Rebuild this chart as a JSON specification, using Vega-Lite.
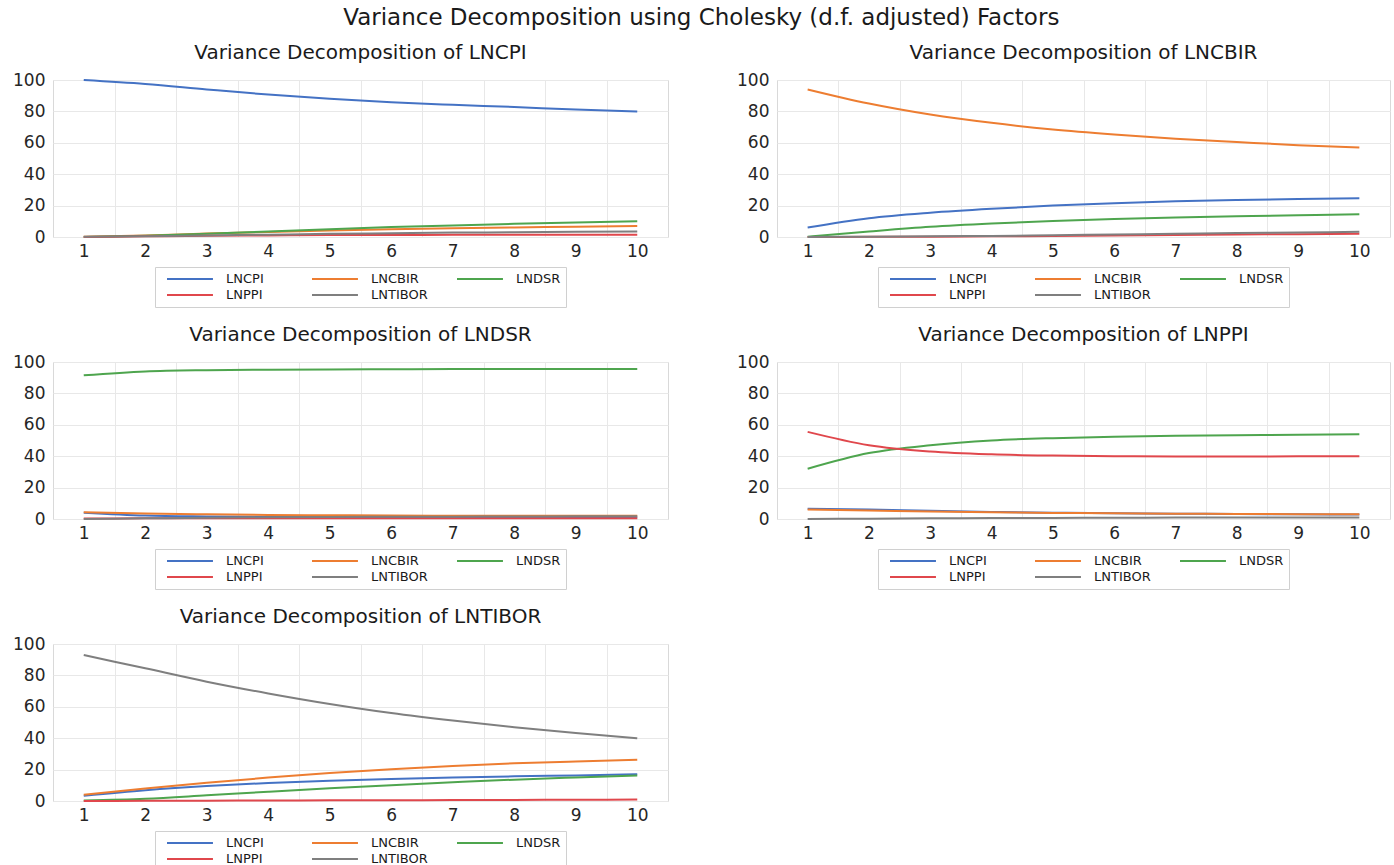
{
  "$schema": "https://vega.github.io/schema/vega-lite/v6.json",
  "padding": {"left": 12, "top": 6, "right": 5, "bottom": 0},
  "title": {"text": "Variance Decomposition using Cholesky (d.f. adjusted) Factors", "anchor": "middle", "offset": 13, "fontSize": 23},
  "data": {"values": [
    {"p":"LNCPI","s":"LNCPI","h":1,"v":100},{"p":"LNCPI","s":"LNCPI","h":2,"v":97.5},{"p":"LNCPI","s":"LNCPI","h":3,"v":94},{"p":"LNCPI","s":"LNCPI","h":4,"v":90.7},{"p":"LNCPI","s":"LNCPI","h":5,"v":88},{"p":"LNCPI","s":"LNCPI","h":6,"v":85.8},{"p":"LNCPI","s":"LNCPI","h":7,"v":84.2},{"p":"LNCPI","s":"LNCPI","h":8,"v":82.8},{"p":"LNCPI","s":"LNCPI","h":9,"v":81.2},{"p":"LNCPI","s":"LNCPI","h":10,"v":80},
    {"p":"LNCPI","s":"LNCBIR","h":1,"v":0.2},{"p":"LNCPI","s":"LNCBIR","h":2,"v":1},{"p":"LNCPI","s":"LNCBIR","h":3,"v":2.2},{"p":"LNCPI","s":"LNCBIR","h":4,"v":3.2},{"p":"LNCPI","s":"LNCBIR","h":5,"v":4.2},{"p":"LNCPI","s":"LNCBIR","h":6,"v":5},{"p":"LNCPI","s":"LNCBIR","h":7,"v":5.6},{"p":"LNCPI","s":"LNCBIR","h":8,"v":6.1},{"p":"LNCPI","s":"LNCBIR","h":9,"v":6.5},{"p":"LNCPI","s":"LNCBIR","h":10,"v":7},
    {"p":"LNCPI","s":"LNDSR","h":1,"v":0},{"p":"LNCPI","s":"LNDSR","h":2,"v":0.8},{"p":"LNCPI","s":"LNDSR","h":3,"v":2},{"p":"LNCPI","s":"LNDSR","h":4,"v":3.5},{"p":"LNCPI","s":"LNDSR","h":5,"v":5},{"p":"LNCPI","s":"LNDSR","h":6,"v":6.3},{"p":"LNCPI","s":"LNDSR","h":7,"v":7.4},{"p":"LNCPI","s":"LNDSR","h":8,"v":8.4},{"p":"LNCPI","s":"LNDSR","h":9,"v":9.3},{"p":"LNCPI","s":"LNDSR","h":10,"v":10},
    {"p":"LNCPI","s":"LNPPI","h":1,"v":0},{"p":"LNCPI","s":"LNPPI","h":2,"v":0.4},{"p":"LNCPI","s":"LNPPI","h":3,"v":0.8},{"p":"LNCPI","s":"LNPPI","h":4,"v":1},{"p":"LNCPI","s":"LNPPI","h":5,"v":1.2},{"p":"LNCPI","s":"LNPPI","h":6,"v":1.3},{"p":"LNCPI","s":"LNPPI","h":7,"v":1.4},{"p":"LNCPI","s":"LNPPI","h":8,"v":1.5},{"p":"LNCPI","s":"LNPPI","h":9,"v":1.5},{"p":"LNCPI","s":"LNPPI","h":10,"v":1.5},
    {"p":"LNCPI","s":"LNTIBOR","h":1,"v":0.1},{"p":"LNCPI","s":"LNTIBOR","h":2,"v":0.5},{"p":"LNCPI","s":"LNTIBOR","h":3,"v":1},{"p":"LNCPI","s":"LNTIBOR","h":4,"v":1.5},{"p":"LNCPI","s":"LNTIBOR","h":5,"v":2},{"p":"LNCPI","s":"LNTIBOR","h":6,"v":2.4},{"p":"LNCPI","s":"LNTIBOR","h":7,"v":2.8},{"p":"LNCPI","s":"LNTIBOR","h":8,"v":3},{"p":"LNCPI","s":"LNTIBOR","h":9,"v":3.3},{"p":"LNCPI","s":"LNTIBOR","h":10,"v":3.5},

    {"p":"LNCBIR","s":"LNCPI","h":1,"v":6},{"p":"LNCBIR","s":"LNCPI","h":2,"v":12},{"p":"LNCBIR","s":"LNCPI","h":3,"v":15.5},{"p":"LNCBIR","s":"LNCPI","h":4,"v":18},{"p":"LNCBIR","s":"LNCPI","h":5,"v":20},{"p":"LNCBIR","s":"LNCPI","h":6,"v":21.5},{"p":"LNCBIR","s":"LNCPI","h":7,"v":22.7},{"p":"LNCBIR","s":"LNCPI","h":8,"v":23.5},{"p":"LNCBIR","s":"LNCPI","h":9,"v":24.2},{"p":"LNCBIR","s":"LNCPI","h":10,"v":24.7},
    {"p":"LNCBIR","s":"LNCBIR","h":1,"v":94},{"p":"LNCBIR","s":"LNCBIR","h":2,"v":85},{"p":"LNCBIR","s":"LNCBIR","h":3,"v":78},{"p":"LNCBIR","s":"LNCBIR","h":4,"v":72.7},{"p":"LNCBIR","s":"LNCBIR","h":5,"v":68.5},{"p":"LNCBIR","s":"LNCBIR","h":6,"v":65.3},{"p":"LNCBIR","s":"LNCBIR","h":7,"v":62.6},{"p":"LNCBIR","s":"LNCBIR","h":8,"v":60.5},{"p":"LNCBIR","s":"LNCBIR","h":9,"v":58.5},{"p":"LNCBIR","s":"LNCBIR","h":10,"v":57},
    {"p":"LNCBIR","s":"LNDSR","h":1,"v":0.2},{"p":"LNCBIR","s":"LNDSR","h":2,"v":3.5},{"p":"LNCBIR","s":"LNDSR","h":3,"v":6.5},{"p":"LNCBIR","s":"LNDSR","h":4,"v":8.6},{"p":"LNCBIR","s":"LNDSR","h":5,"v":10.2},{"p":"LNCBIR","s":"LNDSR","h":6,"v":11.4},{"p":"LNCBIR","s":"LNDSR","h":7,"v":12.4},{"p":"LNCBIR","s":"LNDSR","h":8,"v":13.2},{"p":"LNCBIR","s":"LNDSR","h":9,"v":13.9},{"p":"LNCBIR","s":"LNDSR","h":10,"v":14.5},
    {"p":"LNCBIR","s":"LNPPI","h":1,"v":0},{"p":"LNCBIR","s":"LNPPI","h":2,"v":0.1},{"p":"LNCBIR","s":"LNPPI","h":3,"v":0.2},{"p":"LNCBIR","s":"LNPPI","h":4,"v":0.4},{"p":"LNCBIR","s":"LNPPI","h":5,"v":0.7},{"p":"LNCBIR","s":"LNPPI","h":6,"v":1},{"p":"LNCBIR","s":"LNPPI","h":7,"v":1.3},{"p":"LNCBIR","s":"LNPPI","h":8,"v":1.6},{"p":"LNCBIR","s":"LNPPI","h":9,"v":1.8},{"p":"LNCBIR","s":"LNPPI","h":10,"v":2},
    {"p":"LNCBIR","s":"LNTIBOR","h":1,"v":0},{"p":"LNCBIR","s":"LNTIBOR","h":2,"v":0.2},{"p":"LNCBIR","s":"LNTIBOR","h":3,"v":0.4},{"p":"LNCBIR","s":"LNTIBOR","h":4,"v":0.7},{"p":"LNCBIR","s":"LNTIBOR","h":5,"v":1.1},{"p":"LNCBIR","s":"LNTIBOR","h":6,"v":1.6},{"p":"LNCBIR","s":"LNTIBOR","h":7,"v":2.1},{"p":"LNCBIR","s":"LNTIBOR","h":8,"v":2.5},{"p":"LNCBIR","s":"LNTIBOR","h":9,"v":2.9},{"p":"LNCBIR","s":"LNTIBOR","h":10,"v":3.3},

    {"p":"LNDSR","s":"LNCPI","h":1,"v":4},{"p":"LNDSR","s":"LNCPI","h":2,"v":2.2},{"p":"LNDSR","s":"LNCPI","h":3,"v":1.6},{"p":"LNDSR","s":"LNCPI","h":4,"v":1.3},{"p":"LNDSR","s":"LNCPI","h":5,"v":1.2},{"p":"LNDSR","s":"LNCPI","h":6,"v":1.1},{"p":"LNDSR","s":"LNCPI","h":7,"v":1},{"p":"LNDSR","s":"LNCPI","h":8,"v":1},{"p":"LNDSR","s":"LNCPI","h":9,"v":1},{"p":"LNDSR","s":"LNCPI","h":10,"v":1},
    {"p":"LNDSR","s":"LNCBIR","h":1,"v":4.3},{"p":"LNDSR","s":"LNCBIR","h":2,"v":3.5},{"p":"LNDSR","s":"LNCBIR","h":3,"v":3},{"p":"LNDSR","s":"LNCBIR","h":4,"v":2.6},{"p":"LNDSR","s":"LNCBIR","h":5,"v":2.4},{"p":"LNDSR","s":"LNCBIR","h":6,"v":2.2},{"p":"LNDSR","s":"LNCBIR","h":7,"v":2.1},{"p":"LNDSR","s":"LNCBIR","h":8,"v":2},{"p":"LNDSR","s":"LNCBIR","h":9,"v":2},{"p":"LNDSR","s":"LNCBIR","h":10,"v":2},
    {"p":"LNDSR","s":"LNDSR","h":1,"v":91.5},{"p":"LNDSR","s":"LNDSR","h":2,"v":94},{"p":"LNDSR","s":"LNDSR","h":3,"v":94.8},{"p":"LNDSR","s":"LNDSR","h":4,"v":95.1},{"p":"LNDSR","s":"LNDSR","h":5,"v":95.3},{"p":"LNDSR","s":"LNDSR","h":6,"v":95.4},{"p":"LNDSR","s":"LNDSR","h":7,"v":95.5},{"p":"LNDSR","s":"LNDSR","h":8,"v":95.5},{"p":"LNDSR","s":"LNDSR","h":9,"v":95.6},{"p":"LNDSR","s":"LNDSR","h":10,"v":95.6},
    {"p":"LNDSR","s":"LNPPI","h":1,"v":0.3},{"p":"LNDSR","s":"LNPPI","h":2,"v":0.4},{"p":"LNDSR","s":"LNPPI","h":3,"v":0.5},{"p":"LNDSR","s":"LNPPI","h":4,"v":0.5},{"p":"LNDSR","s":"LNPPI","h":5,"v":0.5},{"p":"LNDSR","s":"LNPPI","h":6,"v":0.5},{"p":"LNDSR","s":"LNPPI","h":7,"v":0.5},{"p":"LNDSR","s":"LNPPI","h":8,"v":0.5},{"p":"LNDSR","s":"LNPPI","h":9,"v":0.5},{"p":"LNDSR","s":"LNPPI","h":10,"v":0.5},
    {"p":"LNDSR","s":"LNTIBOR","h":1,"v":0},{"p":"LNDSR","s":"LNTIBOR","h":2,"v":0.4},{"p":"LNDSR","s":"LNTIBOR","h":3,"v":0.8},{"p":"LNDSR","s":"LNTIBOR","h":4,"v":1.1},{"p":"LNDSR","s":"LNTIBOR","h":5,"v":1.3},{"p":"LNDSR","s":"LNTIBOR","h":6,"v":1.4},{"p":"LNDSR","s":"LNTIBOR","h":7,"v":1.5},{"p":"LNDSR","s":"LNTIBOR","h":8,"v":1.6},{"p":"LNDSR","s":"LNTIBOR","h":9,"v":1.7},{"p":"LNDSR","s":"LNTIBOR","h":10,"v":1.8},

    {"p":"LNPPI","s":"LNCPI","h":1,"v":6.5},{"p":"LNPPI","s":"LNCPI","h":2,"v":6.1},{"p":"LNPPI","s":"LNCPI","h":3,"v":5.2},{"p":"LNPPI","s":"LNCPI","h":4,"v":4.5},{"p":"LNPPI","s":"LNCPI","h":5,"v":4},{"p":"LNPPI","s":"LNCPI","h":6,"v":3.7},{"p":"LNPPI","s":"LNCPI","h":7,"v":3.4},{"p":"LNPPI","s":"LNCPI","h":8,"v":3.2},{"p":"LNPPI","s":"LNCPI","h":9,"v":3},{"p":"LNPPI","s":"LNCPI","h":10,"v":2.8},
    {"p":"LNPPI","s":"LNCBIR","h":1,"v":6},{"p":"LNPPI","s":"LNCBIR","h":2,"v":5.4},{"p":"LNPPI","s":"LNCBIR","h":3,"v":4.8},{"p":"LNPPI","s":"LNCBIR","h":4,"v":4.3},{"p":"LNPPI","s":"LNCBIR","h":5,"v":3.9},{"p":"LNPPI","s":"LNCBIR","h":6,"v":3.6},{"p":"LNPPI","s":"LNCBIR","h":7,"v":3.4},{"p":"LNPPI","s":"LNCBIR","h":8,"v":3.2},{"p":"LNPPI","s":"LNCBIR","h":9,"v":3.1},{"p":"LNPPI","s":"LNCBIR","h":10,"v":3},
    {"p":"LNPPI","s":"LNDSR","h":1,"v":32},{"p":"LNPPI","s":"LNDSR","h":2,"v":42},{"p":"LNPPI","s":"LNDSR","h":3,"v":47},{"p":"LNPPI","s":"LNDSR","h":4,"v":50},{"p":"LNPPI","s":"LNDSR","h":5,"v":51.5},{"p":"LNPPI","s":"LNDSR","h":6,"v":52.4},{"p":"LNPPI","s":"LNDSR","h":7,"v":53},{"p":"LNPPI","s":"LNDSR","h":8,"v":53.4},{"p":"LNPPI","s":"LNDSR","h":9,"v":53.7},{"p":"LNPPI","s":"LNDSR","h":10,"v":54},
    {"p":"LNPPI","s":"LNPPI","h":1,"v":55.5},{"p":"LNPPI","s":"LNPPI","h":2,"v":47},{"p":"LNPPI","s":"LNPPI","h":3,"v":43},{"p":"LNPPI","s":"LNPPI","h":4,"v":41.2},{"p":"LNPPI","s":"LNPPI","h":5,"v":40.4},{"p":"LNPPI","s":"LNPPI","h":6,"v":40},{"p":"LNPPI","s":"LNPPI","h":7,"v":39.8},{"p":"LNPPI","s":"LNPPI","h":8,"v":39.8},{"p":"LNPPI","s":"LNPPI","h":9,"v":39.9},{"p":"LNPPI","s":"LNPPI","h":10,"v":40},
    {"p":"LNPPI","s":"LNTIBOR","h":1,"v":0},{"p":"LNPPI","s":"LNTIBOR","h":2,"v":0.2},{"p":"LNPPI","s":"LNTIBOR","h":3,"v":0.4},{"p":"LNPPI","s":"LNTIBOR","h":4,"v":0.6},{"p":"LNPPI","s":"LNTIBOR","h":5,"v":0.7},{"p":"LNPPI","s":"LNTIBOR","h":6,"v":0.8},{"p":"LNPPI","s":"LNTIBOR","h":7,"v":0.9},{"p":"LNPPI","s":"LNTIBOR","h":8,"v":1},{"p":"LNPPI","s":"LNTIBOR","h":9,"v":1},{"p":"LNPPI","s":"LNTIBOR","h":10,"v":1},

    {"p":"LNTIBOR","s":"LNCPI","h":1,"v":3.3},{"p":"LNTIBOR","s":"LNCPI","h":2,"v":6.8},{"p":"LNTIBOR","s":"LNCPI","h":3,"v":9.5},{"p":"LNTIBOR","s":"LNCPI","h":4,"v":11.5},{"p":"LNTIBOR","s":"LNCPI","h":5,"v":12.9},{"p":"LNTIBOR","s":"LNCPI","h":6,"v":14},{"p":"LNTIBOR","s":"LNCPI","h":7,"v":14.9},{"p":"LNTIBOR","s":"LNCPI","h":8,"v":15.7},{"p":"LNTIBOR","s":"LNCPI","h":9,"v":16.3},{"p":"LNTIBOR","s":"LNCPI","h":10,"v":17},
    {"p":"LNTIBOR","s":"LNCBIR","h":1,"v":4},{"p":"LNTIBOR","s":"LNCBIR","h":2,"v":8},{"p":"LNTIBOR","s":"LNCBIR","h":3,"v":11.6},{"p":"LNTIBOR","s":"LNCBIR","h":4,"v":14.9},{"p":"LNTIBOR","s":"LNCBIR","h":5,"v":17.8},{"p":"LNTIBOR","s":"LNCBIR","h":6,"v":20.3},{"p":"LNTIBOR","s":"LNCBIR","h":7,"v":22.3},{"p":"LNTIBOR","s":"LNCBIR","h":8,"v":24},{"p":"LNTIBOR","s":"LNCBIR","h":9,"v":25.2},{"p":"LNTIBOR","s":"LNCBIR","h":10,"v":26.2},
    {"p":"LNTIBOR","s":"LNDSR","h":1,"v":0.3},{"p":"LNTIBOR","s":"LNDSR","h":2,"v":1.4},{"p":"LNTIBOR","s":"LNDSR","h":3,"v":3.6},{"p":"LNTIBOR","s":"LNDSR","h":4,"v":5.9},{"p":"LNTIBOR","s":"LNDSR","h":5,"v":8.1},{"p":"LNTIBOR","s":"LNDSR","h":6,"v":10.1},{"p":"LNTIBOR","s":"LNDSR","h":7,"v":11.9},{"p":"LNTIBOR","s":"LNDSR","h":8,"v":13.6},{"p":"LNTIBOR","s":"LNDSR","h":9,"v":15},{"p":"LNTIBOR","s":"LNDSR","h":10,"v":16.3},
    {"p":"LNTIBOR","s":"LNPPI","h":1,"v":0},{"p":"LNTIBOR","s":"LNPPI","h":2,"v":0.1},{"p":"LNTIBOR","s":"LNPPI","h":3,"v":0.2},{"p":"LNTIBOR","s":"LNPPI","h":4,"v":0.3},{"p":"LNTIBOR","s":"LNPPI","h":5,"v":0.4},{"p":"LNTIBOR","s":"LNPPI","h":6,"v":0.5},{"p":"LNTIBOR","s":"LNPPI","h":7,"v":0.6},{"p":"LNTIBOR","s":"LNPPI","h":8,"v":0.7},{"p":"LNTIBOR","s":"LNPPI","h":9,"v":0.8},{"p":"LNTIBOR","s":"LNPPI","h":10,"v":0.9},
    {"p":"LNTIBOR","s":"LNTIBOR","h":1,"v":93},{"p":"LNTIBOR","s":"LNTIBOR","h":2,"v":84.5},{"p":"LNTIBOR","s":"LNTIBOR","h":3,"v":76},{"p":"LNTIBOR","s":"LNTIBOR","h":4,"v":68.5},{"p":"LNTIBOR","s":"LNTIBOR","h":5,"v":61.8},{"p":"LNTIBOR","s":"LNTIBOR","h":6,"v":56},{"p":"LNTIBOR","s":"LNTIBOR","h":7,"v":51.2},{"p":"LNTIBOR","s":"LNTIBOR","h":8,"v":47},{"p":"LNTIBOR","s":"LNTIBOR","h":9,"v":43.3},{"p":"LNTIBOR","s":"LNTIBOR","h":10,"v":40}
  ]},
  "columns": 2,
  "spacing": {"row": 16, "column": 67},
  "resolve": {"legend": {"color": "independent"}},
  "concat": [
    {"title": "Variance Decomposition of LNCPI", "width": 615, "height": 157,
     "transform": [{"filter": "datum.p === 'LNCPI'"}],
     "layer": [
      {"mark": {"type": "line", "interpolate": "monotone", "strokeWidth": 2},
       "encoding": {
        "x": {"field": "h", "type": "quantitative", "scale": {"domain": [0.5, 10.5], "nice": false, "zero": false}, "axis": {"values": [1,2,3,4,5,6,7,8,9,10], "format": "d", "grid": false, "ticks": false, "domain": false, "labelFlush": false, "labelOverlap": false, "labelPadding": 6, "title": null}},
        "y": {"field": "v", "type": "quantitative", "scale": {"domain": [0, 100], "nice": false}, "axis": {"values": [0,20,40,60,80,100], "tickCount": 6, "ticks": false, "domain": false, "labelOverlap": false, "labelFlush": false, "labelPadding": 8, "title": null}},
        "color": {"field": "s", "type": "nominal", "scale": {"domain": ["LNCPI","LNCBIR","LNDSR","LNPPI","LNTIBOR"], "range": ["#4472C4","#ED7D31","#4EA54E","#E0474C","#7F7F7F"]}}
       }},
      {"mark": {"type": "rule", "opacity": 0},
       "encoding": {
        "x": {"field": "h", "type": "quantitative", "axis": {"orient": "top", "values": [1.5,2.5,3.5,4.5,5.5,6.5,7.5,8.5,9.5], "labels": false, "ticks": false, "domain": false, "grid": true, "title": null}}
       }}
     ],
     "resolve": {"axis": {"x": "independent"}}
    },
    {"title": "Variance Decomposition of LNCBIR", "width": 613, "height": 157,
     "transform": [{"filter": "datum.p === 'LNCBIR'"}],
     "layer": [
      {"mark": {"type": "line", "interpolate": "monotone", "strokeWidth": 2},
       "encoding": {
        "x": {"field": "h", "type": "quantitative", "scale": {"domain": [0.5, 10.5], "nice": false, "zero": false}, "axis": {"values": [1,2,3,4,5,6,7,8,9,10], "format": "d", "grid": false, "ticks": false, "domain": false, "labelFlush": false, "labelOverlap": false, "labelPadding": 6, "title": null}},
        "y": {"field": "v", "type": "quantitative", "scale": {"domain": [0, 100], "nice": false}, "axis": {"values": [0,20,40,60,80,100], "tickCount": 6, "ticks": false, "domain": false, "labelOverlap": false, "labelFlush": false, "labelPadding": 8, "title": null}},
        "color": {"field": "s", "type": "nominal", "scale": {"domain": ["LNCPI","LNCBIR","LNDSR","LNPPI","LNTIBOR"], "range": ["#4472C4","#ED7D31","#4EA54E","#E0474C","#7F7F7F"]}}
       }},
      {"mark": {"type": "rule", "opacity": 0},
       "encoding": {
        "x": {"field": "h", "type": "quantitative", "axis": {"orient": "top", "values": [1.5,2.5,3.5,4.5,5.5,6.5,7.5,8.5,9.5], "labels": false, "ticks": false, "domain": false, "grid": true, "title": null}}
       }}
     ],
     "resolve": {"axis": {"x": "independent"}}
    },
    {"title": "Variance Decomposition of LNDSR", "width": 615, "height": 157,
     "transform": [{"filter": "datum.p === 'LNDSR'"}],
     "layer": [
      {"mark": {"type": "line", "interpolate": "monotone", "strokeWidth": 2},
       "encoding": {
        "x": {"field": "h", "type": "quantitative", "scale": {"domain": [0.5, 10.5], "nice": false, "zero": false}, "axis": {"values": [1,2,3,4,5,6,7,8,9,10], "format": "d", "grid": false, "ticks": false, "domain": false, "labelFlush": false, "labelOverlap": false, "labelPadding": 6, "title": null}},
        "y": {"field": "v", "type": "quantitative", "scale": {"domain": [0, 100], "nice": false}, "axis": {"values": [0,20,40,60,80,100], "tickCount": 6, "ticks": false, "domain": false, "labelOverlap": false, "labelFlush": false, "labelPadding": 8, "title": null}},
        "color": {"field": "s", "type": "nominal", "scale": {"domain": ["LNCPI","LNCBIR","LNDSR","LNPPI","LNTIBOR"], "range": ["#4472C4","#ED7D31","#4EA54E","#E0474C","#7F7F7F"]}}
       }},
      {"mark": {"type": "rule", "opacity": 0},
       "encoding": {
        "x": {"field": "h", "type": "quantitative", "axis": {"orient": "top", "values": [1.5,2.5,3.5,4.5,5.5,6.5,7.5,8.5,9.5], "labels": false, "ticks": false, "domain": false, "grid": true, "title": null}}
       }}
     ],
     "resolve": {"axis": {"x": "independent"}}
    },
    {"title": "Variance Decomposition of LNPPI", "width": 613, "height": 157,
     "transform": [{"filter": "datum.p === 'LNPPI'"}],
     "layer": [
      {"mark": {"type": "line", "interpolate": "monotone", "strokeWidth": 2},
       "encoding": {
        "x": {"field": "h", "type": "quantitative", "scale": {"domain": [0.5, 10.5], "nice": false, "zero": false}, "axis": {"values": [1,2,3,4,5,6,7,8,9,10], "format": "d", "grid": false, "ticks": false, "domain": false, "labelFlush": false, "labelOverlap": false, "labelPadding": 6, "title": null}},
        "y": {"field": "v", "type": "quantitative", "scale": {"domain": [0, 100], "nice": false}, "axis": {"values": [0,20,40,60,80,100], "tickCount": 6, "ticks": false, "domain": false, "labelOverlap": false, "labelFlush": false, "labelPadding": 8, "title": null}},
        "color": {"field": "s", "type": "nominal", "scale": {"domain": ["LNCPI","LNCBIR","LNDSR","LNPPI","LNTIBOR"], "range": ["#4472C4","#ED7D31","#4EA54E","#E0474C","#7F7F7F"]}}
       }},
      {"mark": {"type": "rule", "opacity": 0},
       "encoding": {
        "x": {"field": "h", "type": "quantitative", "axis": {"orient": "top", "values": [1.5,2.5,3.5,4.5,5.5,6.5,7.5,8.5,9.5], "labels": false, "ticks": false, "domain": false, "grid": true, "title": null}}
       }}
     ],
     "resolve": {"axis": {"x": "independent"}}
    },
    {"title": "Variance Decomposition of LNTIBOR", "width": 615, "height": 157,
     "transform": [{"filter": "datum.p === 'LNTIBOR'"}],
     "layer": [
      {"mark": {"type": "line", "interpolate": "monotone", "strokeWidth": 2},
       "encoding": {
        "x": {"field": "h", "type": "quantitative", "scale": {"domain": [0.5, 10.5], "nice": false, "zero": false}, "axis": {"values": [1,2,3,4,5,6,7,8,9,10], "format": "d", "grid": false, "ticks": false, "domain": false, "labelFlush": false, "labelOverlap": false, "labelPadding": 6, "title": null}},
        "y": {"field": "v", "type": "quantitative", "scale": {"domain": [0, 100], "nice": false}, "axis": {"values": [0,20,40,60,80,100], "tickCount": 6, "ticks": false, "domain": false, "labelOverlap": false, "labelFlush": false, "labelPadding": 8, "title": null}},
        "color": {"field": "s", "type": "nominal", "scale": {"domain": ["LNCPI","LNCBIR","LNDSR","LNPPI","LNTIBOR"], "range": ["#4472C4","#ED7D31","#4EA54E","#E0474C","#7F7F7F"]}}
       }},
      {"mark": {"type": "rule", "opacity": 0},
       "encoding": {
        "x": {"field": "h", "type": "quantitative", "axis": {"orient": "top", "values": [1.5,2.5,3.5,4.5,5.5,6.5,7.5,8.5,9.5], "labels": false, "ticks": false, "domain": false, "grid": true, "title": null}}
       }}
     ],
     "resolve": {"axis": {"x": "independent"}}
    }
  ],
  "config": {
    "font": "DejaVu Sans",
    "view": {"stroke": "#d9d9d9", "strokeWidth": 1},
    "title": {"fontSize": 20, "fontWeight": "normal", "color": "#1a1a1a", "anchor": "middle", "offset": 8},
    "axis": {"labelFontSize": 17, "labelColor": "#262626", "gridColor": "#e8e8e8", "gridWidth": 1},
    "legend": {
      "orient": "bottom", "direction": "horizontal", "columns": 3, "title": null,
      "symbolType": "M0,0H8", "symbolSize": 132, "symbolStrokeWidth": 2,
      "labelFontSize": 13, "labelColor": "#1a1a1a", "labelOffset": 52, "columnPadding": 22, "rowPadding": 2,
      "gridAlign": "all", "padding": 5, "strokeColor": "#d0d0d0", "offset": 8,
      "layout": {"bottom": {"anchor": "middle"}}
    }
  }
}
